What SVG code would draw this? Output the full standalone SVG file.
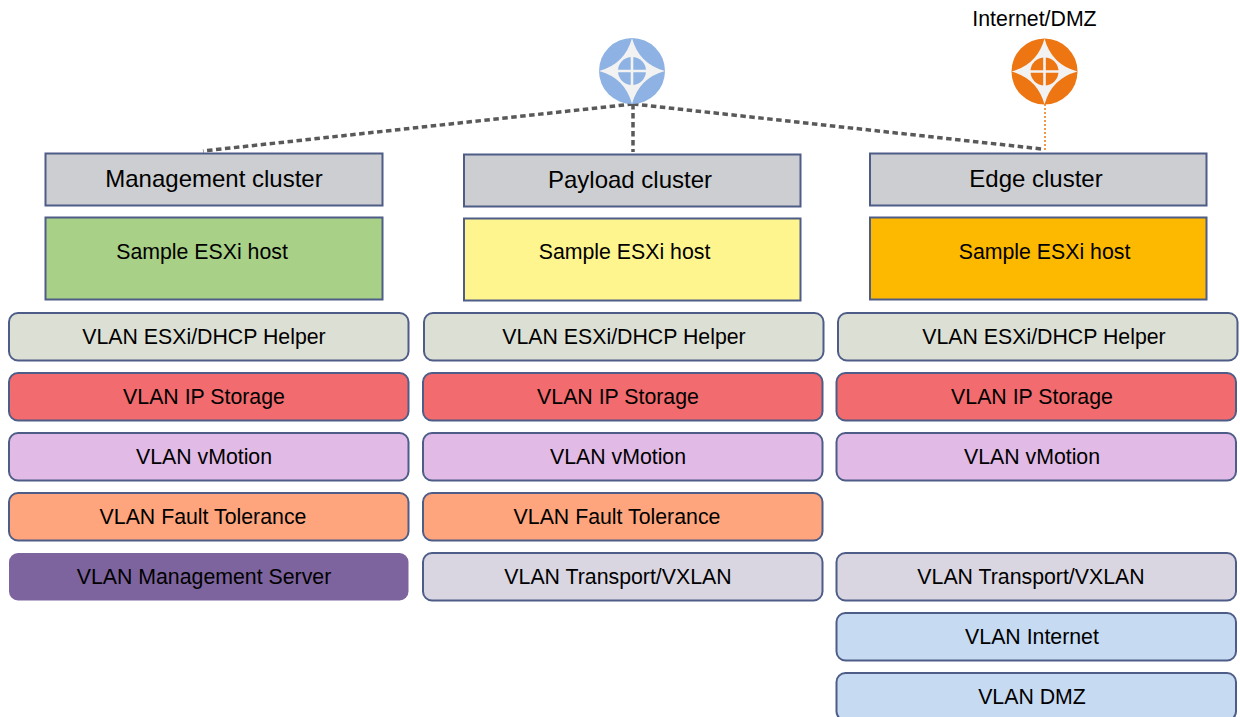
<svg xmlns="http://www.w3.org/2000/svg" width="1240" height="717" viewBox="0 0 1240 717">
<style>
text{font-family:"Liberation Sans",Arial,sans-serif;fill:#000;text-anchor:middle}
.t{font-size:21.3px}
.h{font-size:24px}
.c{stroke:#4e5d88;stroke-width:2}
.v{stroke:#4e5d88;stroke-width:2}
.dash{fill:none;stroke:#595959;stroke-width:3.500;stroke-dasharray:5.500 3.500}
</style>
<defs>
<g id="star">
<circle r="33" fill="currentColor"/>
<path d="M0-33Q7-7 33 0Q7 7 0 33Q-7 7-33 0Q-7-7 0-33Z" fill="#f2f2f2"/>
<circle r="14" fill="currentColor"/>
<path d="M-15-1.300H15V1.300H-15ZM-1.300-15H1.300V15H-1.300Z" fill="#f2f2f2"/>
</g>
</defs>
<g id="connectors">
<path class="dash" d="M633 104L203 151"/>
<path class="dash" d="M633 104V152"/>
<path class="dash" d="M633 104L1042 149"/>
<path d="M1045 104V150" fill="none" stroke="#ed7512" stroke-width="1.500" stroke-dasharray="2 2"/>
</g>
<g id="icon-payload" color="#8db2e3"><use href="#star" x="632" y="71"/></g>
<g id="icon-internet" color="#ed7512"><use href="#star" x="1044.500" y="71.500"/></g>
<g id="label-internet"><text class="t" x="1034.500" y="26">Internet/DMZ</text></g>
<g id="mgmt-cluster"><rect class="c" x="45.500" y="153.500" width="337" height="52" fill="#ccced1"/><text class="h" x="214" y="187">Management cluster</text></g>
<g id="mgmt-host"><rect class="c" x="45.500" y="217.500" width="337" height="82" fill="#a9d087"/><text class="t" x="202" y="259">Sample ESXi host</text></g>
<g id="payload-cluster"><rect class="c" x="464" y="154.500" width="336.500" height="52" fill="#ccced1"/><text class="h" x="630" y="188">Payload cluster</text></g>
<g id="payload-host"><rect class="c" x="464" y="218.500" width="336.500" height="82" fill="#fff58e"/><text class="t" x="624.500" y="259">Sample ESXi host</text></g>
<g id="edge-cluster"><rect class="c" x="870" y="153.500" width="336.500" height="52" fill="#ccced1"/><text class="h" x="1036" y="187">Edge cluster</text></g>
<g id="edge-host"><rect class="c" x="870" y="217.500" width="336.500" height="82" fill="#fdb900"/><text class="t" x="1044.500" y="259">Sample ESXi host</text></g>

<g id="m1"><rect class="v" x="9" y="313" width="399.500" height="47.500" rx="9" fill="#dcdfd3"/><text class="t" x="204" y="344">VLAN ESXi/DHCP Helper</text></g>
<g id="m2"><rect class="v" x="9" y="373" width="399.500" height="47.500" rx="9" fill="#f26b6e"/><text class="t" x="204" y="404">VLAN IP Storage</text></g>
<g id="m3"><rect class="v" x="9" y="433" width="399.500" height="47.500" rx="9" fill="#e1bae6"/><text class="t" x="204" y="464">VLAN vMotion</text></g>
<g id="m4"><rect class="v" x="9" y="493" width="399.500" height="47.500" rx="9" fill="#ffa57d"/><text class="t" x="203" y="524">VLAN Fault Tolerance</text></g>
<g id="m5"><rect x="9" y="553" width="399.500" height="47.500" rx="9" fill="#7e649e"/><text class="t" x="204" y="584">VLAN Management Server</text></g>

<g id="p1"><rect class="v" x="424" y="313" width="399.500" height="47.500" rx="9" fill="#dcdfd3"/><text class="t" x="624" y="344">VLAN ESXi/DHCP Helper</text></g>
<g id="p2"><rect class="v" x="423" y="373" width="399.500" height="47.500" rx="9" fill="#f26b6e"/><text class="t" x="618" y="404">VLAN IP Storage</text></g>
<g id="p3"><rect class="v" x="423" y="433" width="399.500" height="47.500" rx="9" fill="#e1bae6"/><text class="t" x="618" y="464">VLAN vMotion</text></g>
<g id="p4"><rect class="v" x="423" y="493" width="399.500" height="47.500" rx="9" fill="#ffa57d"/><text class="t" x="617" y="524">VLAN Fault Tolerance</text></g>
<g id="p5"><rect class="v" x="423" y="553" width="399.500" height="47.500" rx="9" fill="#d9d6e2"/><text class="t" x="618" y="584">VLAN Transport/VXLAN</text></g>

<g id="e1"><rect class="v" x="838" y="313" width="399.500" height="47.500" rx="9" fill="#dcdfd3"/><text class="t" x="1044" y="344">VLAN ESXi/DHCP Helper</text></g>
<g id="e2"><rect class="v" x="836.500" y="373" width="399.500" height="47.500" rx="9" fill="#f26b6e"/><text class="t" x="1032" y="404">VLAN IP Storage</text></g>
<g id="e3"><rect class="v" x="836.500" y="433" width="399.500" height="47.500" rx="9" fill="#e1bae6"/><text class="t" x="1032" y="464">VLAN vMotion</text></g>
<g id="e4"><rect class="v" x="836.500" y="553" width="399.500" height="47.500" rx="9" fill="#d9d6e2"/><text class="t" x="1031" y="584">VLAN Transport/VXLAN</text></g>
<g id="e5"><rect class="v" x="836.500" y="613" width="399.500" height="47.500" rx="9" fill="#c6daf2"/><text class="t" x="1032" y="644">VLAN Internet</text></g>
<g id="e6"><rect class="v" x="836.500" y="673" width="399.500" height="47.500" rx="9" fill="#c6daf2"/><text class="t" x="1032" y="704">VLAN DMZ</text></g>
</svg>
